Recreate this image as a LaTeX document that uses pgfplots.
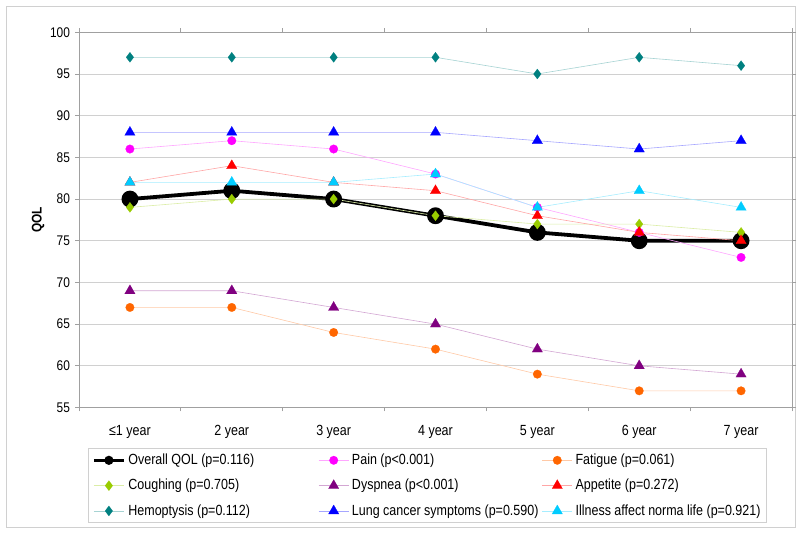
\documentclass[border=0pt]{standalone}
\usepackage{fontspec}
\setmainfont{Liberation Sans}[FakeStretch=0.85]
\usepackage{pgfplots}
\usepackage{pgfplotstable}
\pgfplotsset{compat=1.18}
\definecolor{cPain}{HTML}{FF00FF}
\definecolor{cFat}{HTML}{FF6600}
\definecolor{cCough}{HTML}{99CC00}
\definecolor{cDysp}{HTML}{800080}
\definecolor{cApp}{HTML}{FF0000}
\definecolor{cHemo}{HTML}{008080}
\definecolor{cLung}{HTML}{0000FF}
\definecolor{cIll}{HTML}{00CCFF}
\definecolor{cGrid}{HTML}{D0D0D0}
\definecolor{cAxis}{HTML}{A0A0A0}
\pgfplotstableread{
x overall pain fatigue coughing dyspnea appetite hemo lung illness
0 80 86 67 79 69 82 97 88 82
1 81 87 67 80 69 84 97 88 82
2 80 86 64 80 67 82 97 88 82
3 78 83 62 78 65 81 97 88 83
4 76 79 59 77 62 78 95 87 79
5 75 76 57 77 60 76 97 86 81
6 75 73 57 76 59 75 96 87 79
}\qol
\pgfplotsset{
  ser/.style n args={3}{color=#1, draw=#1!35, line width=0.6bp, mark=#2, mark size=#3,
    mark options={fill=#1, draw=#1, line width=0.2bp, solid}},
}
\newcommand{\lt}[1]{\makebox[187bp][l]{\rule[-3.1bp]{0pt}{13.6bp}#1}}
\newcommand{\ltl}[1]{\makebox[186bp][l]{\rule[-3.1bp]{0pt}{13.6bp}#1}}
\begin{document}
\fontsize{14.5bp}{17bp}\selectfont
\begin{tikzpicture}
\path[use as bounding box] (0,0) rectangle (800bp,534bp);
\draw[cGrid, line width=0.8bp] (6bp,7bp) rectangle (795bp,528bp);
\begin{axis}[
  at={(79bp,126.5bp)}, anchor=south west,
  scale only axis, width=713bp, height=375.2bp,
  xmin=-0.5, xmax=6.5, ymin=55, ymax=100,
  xtick={0,...,6},
  xticklabels={≤1 year,2 year,3 year,4 year,5 year,6 year,7 year},
  minor xtick={-0.5,0.5,...,6.5},
  every major x tick/.append style={draw=none},
  ytick={55,60,...,100},
  tick align=outside,
  major tick length=4bp, minor tick length=4bp,
  tick style={cAxis, line width=0.8bp},
  ymajorgrids, grid style={cGrid, line width=0.8bp},
  axis line style={cAxis, line width=1bp},
  /pgf/number format/assume math mode=true,
  yticklabel style={font=\fontsize{14bp}{16bp}\selectfont},
  xticklabel style={font=\fontsize{14.7bp}{17bp}\selectfont, yshift=-9bp},
  ylabel={QOL},
  ylabel style={at={(axis description cs:-0.0575,0.5)}, anchor=center, font=\fontsize{14bp}{16bp}\selectfont\bfseries},
  clip=false,
  legend columns=3,
  legend image code/.code={\draw[mark repeat=2,mark phase=2,#1] plot coordinates {(0bp,0bp) (15bp,0bp) (30bp,0bp)};},
  legend style={at={(axis description cs:0.01262,-0.10794)}, anchor=north west,
    draw=cGrid, line width=0.8bp, inner xsep=4bp, inner ysep=4.5bp,
    column sep=2bp, row sep=10.5bp,
    nodes={inner sep=1bp, anchor=west},
    font=\fontsize{14.7bp}{17bp}\selectfont},
  legend cell align=left,
]
\addplot[black, line width=3.8bp, mark=*, mark size=6.5bp, mark options={solid, fill=black}, forget plot] table[x=x,y=overall] {\qol};
\addlegendimage{black, line width=3bp, mark=*, mark size=3bp, mark options={solid, fill=black}}
\addlegendentry{\lt{Overall QOL (p=0.116)}}
\addplot[ser={cPain}{*}{4.3bp}] table[x=x,y=pain] {\qol};
\addlegendentry{\lt{Pain (p<0.001)}}
\addplot[ser={cFat}{*}{4.3bp}] table[x=x,y=fatigue] {\qol};
\addlegendentry{\ltl{Fatigue (p=0.061)}}
\addplot[ser={cCough}{diamond*}{5bp}] table[x=x,y=coughing] {\qol};
\addlegendentry{\lt{Coughing (p=0.705)}}
\addplot[ser={cDysp}{triangle*}{6bp}] table[x=x,y=dyspnea] {\qol};
\addlegendentry{\lt{Dyspnea (p<0.001)}}
\addplot[ser={cApp}{triangle*}{6bp}] table[x=x,y=appetite] {\qol};
\addlegendentry{\ltl{Appetite (p=0.272)}}
\addplot[ser={cHemo}{diamond*}{5bp}] table[x=x,y=hemo] {\qol};
\addlegendentry{\lt{Hemoptysis (p=0.112)}}
\addplot[ser={cLung}{triangle*}{6bp}] table[x=x,y=lung] {\qol};
\addlegendentry{\lt{Lung cancer symptoms (p=0.590)}}
\addplot[ser={cIll}{triangle*}{6bp}] table[x=x,y=illness] {\qol};
\addlegendentry{\ltl{Illness affect norma life (p=0.921)}}
\end{axis}
\end{tikzpicture}
\end{document}
